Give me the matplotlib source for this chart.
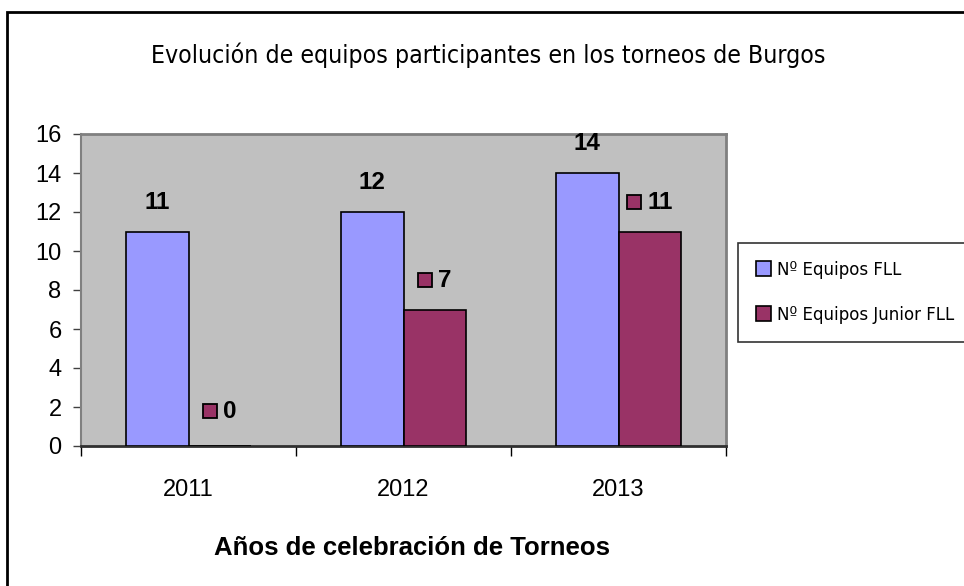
import matplotlib
matplotlib.use('Agg')
import numpy as np
from matplotlib import pyplot as plt
from matplotlib.patches import Rectangle
from matplotlib.offsetbox import AnnotationBbox, DrawingArea, HPacker, TextArea

years = ['2011', '2012', '2013']
fll = [11, 12, 14]
junior = [0, 7, 11]
series_names = ['Nº Equipos FLL', 'Nº Equipos Junior FLL']
title = 'Evolución de equipos participantes en los torneos de Burgos'
xlabel = 'Años de celebración de Torneos'

col_fll = '#9999FF'
col_jun = '#993366'
arial = ['Liberation Sans', 'DejaVu Sans']

fig = plt.figure(figsize=(9.64, 5.86), dpi=100)
fig.patch.set_facecolor('white')

# outer chart border (only top and left visible in the reference)
fig.patches.append(Rectangle((7 / 964, -0.1), 1.2, 1 - 12 / 586 + 0.1,
                             transform=fig.transFigure, fill=False,
                             edgecolor='black', linewidth=2))

ax = fig.add_axes([81 / 964, 1 - 446 / 586, 645 / 964, 312 / 586])
ax.set_facecolor('#C0C0C0')

x = np.arange(len(years))
w = 0.29
ax.bar(x - w / 2, fll, w, color=col_fll, edgecolor='black', linewidth=1.2,
       label=series_names[0], zorder=3)
ax.bar(x + w / 2, junior, w, color=col_jun, edgecolor='black', linewidth=1.2,
       label=series_names[1], zorder=3)

ax.set_xlim(-0.5, 2.5)
ax.set_ylim(0, 16)
ax.set_yticks(np.arange(0, 17, 2))
ax.set_xticks(x)
ax.set_xticklabels(years, family=arial, fontsize=17)
ax.set_xticks([-0.5, 0.5, 1.5, 2.5], minor=True)
ax.tick_params(axis='x', which='major', length=0, pad=24)
ax.tick_params(axis='x', which='minor', length=7.5, width=1, color='black')
ax.tick_params(axis='y', length=6, width=1, pad=8, color='#404040')
for lab in ax.get_yticklabels():
    lab.set_family(arial)
    lab.set_fontsize(17)

for s in ['top', 'right']:
    ax.spines[s].set_color('#808080')
    ax.spines[s].set_linewidth(2)
ax.spines['left'].set_color('#808080')
ax.spines['left'].set_linewidth(1.5)
ax.spines['bottom'].set_color('#303030')
ax.spines['bottom'].set_linewidth(2)

# labels for FLL series
for xi, v in zip(x - w / 2, fll):
    ax.annotate(str(v), (xi, v), xytext=(0, 21), textcoords='offset points',
                ha='center', va='center', fontsize=17.5, fontweight='bold',
                family=arial)

# labels for junior series, with legend key
for xi, v in zip(x + w / 2, junior):
    da = DrawingArea(11, 11, 0, 0)
    da.add_artist(Rectangle((0.5, 0.5), 10, 10, facecolor=col_jun,
                            edgecolor='black', linewidth=1.3))
    ta = TextArea(str(v), textprops=dict(fontsize=17.5, fontweight='bold',
                                         family=arial))
    pk = HPacker(children=[da, ta], align='center', pad=0, sep=4)
    off = 21 if v > 0 else 25
    ab = AnnotationBbox(pk, (xi, v), xybox=(0, off), boxcoords='offset points',
                        frameon=False, box_alignment=(0.5, 0.5))
    ax.add_artist(ab)

fig.text(0.506, 1 - 55 / 586, title, ha='center', va='center',
         fontsize=17.8, family='DejaVu Sans', fontstretch='condensed')
fig.text(412 / 964, 1 - 548 / 586, xlabel, ha='center', va='center',
         fontsize=18.5, fontweight='bold', family=arial)

leg = ax.legend(loc='upper left', bbox_to_anchor=(738 / 964, 1 - 243 / 586),
                bbox_transform=fig.transFigure, borderaxespad=0,
                frameon=True, fancybox=False, edgecolor='black',
                prop={'family': 'DejaVu Sans', 'stretch': 'condensed', 'size': 13.3},
                handlelength=0.85, handleheight=0.85, handletextpad=0.3,
                labelspacing=1.5, borderpad=0.95)
leg.get_frame().set_linewidth(1.2)

fig.savefig('out.png', dpi=100)
